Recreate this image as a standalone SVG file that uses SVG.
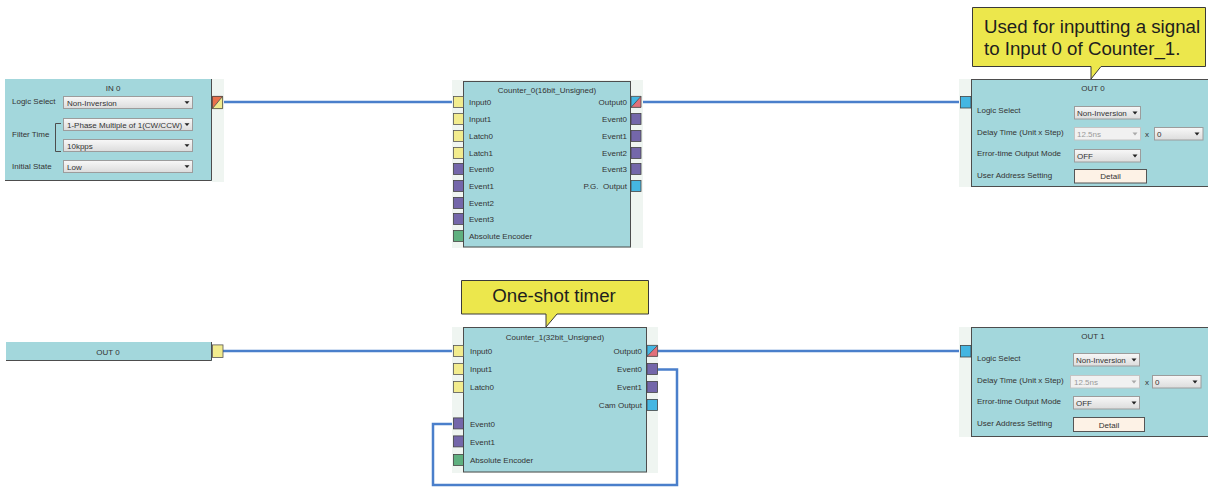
<svg xmlns="http://www.w3.org/2000/svg" width="1208" height="487" viewBox="0 0 1208 487">
<defs>
<linearGradient id="ddg" x1="0" y1="0" x2="0" y2="1"><stop offset="0" stop-color="#f8f8f8"/><stop offset="1" stop-color="#dcdcdc"/></linearGradient>
<path id="arr" d="M-2.5,-1.2 H2.5 L0,1.6 Z"/>
</defs>
<style>
.body{fill:#a3d7dc;stroke:#4d4d4d;stroke-width:1}
.bodyn{fill:#a3d7dc}
.edge{fill:none;stroke:#4d4d4d;stroke-width:1}
.pale{fill:#eff5f1}
.t{font-family:"Liberation Sans",Arial,sans-serif;font-size:8px;fill:#333}
.tg{font-family:"Liberation Sans",Arial,sans-serif;font-size:8px;fill:#999}
.mid{text-anchor:middle}
.end{text-anchor:end}
.dd{fill:url(#ddg);stroke:#9c9c9c;stroke-width:1}
.ddd{fill:#f1f1f1;stroke:#c4c4c4;stroke-width:1}
.btn{fill:#fdf2e6;stroke:#555;stroke-width:1}
.pY{fill:#f2ec8e;stroke:#555;stroke-width:0.8}
.pP{fill:#7467aa;stroke:#444;stroke-width:0.8}
.pG{fill:#5fb07f;stroke:#444;stroke-width:0.8}
.pB{fill:#45b6e2;stroke:#444;stroke-width:0.8}
.pR{fill:#e2707a}
.pO{fill:#e8714c}
.pYf{fill:#f2ec8e}
.pBf{fill:#45b6e2}
.pe{fill:none;stroke:#444;stroke-width:0.8}
.conn{fill:none;stroke:#4a7fcb;stroke-width:2.5}
.call{fill:#ece74c;stroke:#3a3a3a;stroke-width:1}
.ct{font-family:"Liberation Sans",Arial,sans-serif;font-size:18.7px;fill:#1e1e1e}
.ar{fill:#222}
.arg{fill:#aaa}
</style>

<g id="connectors">
<path class="conn" d="M223,102 H453"/>
<path class="conn" d="M641,102 H960"/>
<path class="conn" d="M223,351 H453"/>
<path class="conn" d="M658,351 H960"/>
<path class="conn" d="M658,369.5 H677 V485 H433 V424 H453"/>
</g>

<g id="in0">
<rect class="pale" x="212" y="79" width="12" height="103"/>
<rect class="bodyn" x="5" y="79" width="207" height="102"/>
<path class="edge" d="M211.5,79 V180.5 H5"/>
<text class="t mid" x="113" y="91">IN 0</text>
<text class="t" x="12" y="104">Logic Select</text>
<rect class="dd" x="63.5" y="96.5" width="129" height="12"/>
<text class="t" x="67" y="105.5">Non-Inversion</text>
<use href="#arr" class="ar" x="187" y="102.5"/>
<text class="t" x="12" y="137">Filter Time</text>
<path class="edge" d="M61,123.5 H55.5 V151.5 H61" stroke="#555"/>
<rect class="dd" x="63.5" y="118.5" width="129" height="12"/>
<text class="t" x="67" y="127.5">1-Phase Multiple of 1(CW/CCW)</text>
<use href="#arr" class="ar" x="187" y="124.5"/>
<rect class="dd" x="63.5" y="139.5" width="129" height="12"/>
<text class="t" x="67" y="148.5">10kpps</text>
<use href="#arr" class="ar" x="187" y="145.5"/>
<text class="t" x="12" y="169">Initial State</text>
<rect class="dd" x="63.5" y="160.5" width="129" height="12"/>
<text class="t" x="67" y="169.5">Low</text>
<use href="#arr" class="ar" x="187" y="166.5"/>
<polygon class="pO" points="212,96 223,96 212,109"/>
<polygon class="pYf" points="223,96 223,109 212,109"/>
<path class="pe" d="M212.4,96.4 H222.6 V108.6 H212.4 Z M212.4,108.6 L222.6,96.4"/>
</g>

<g id="counter0">
<rect class="pale" x="452" y="80" width="191" height="168"/>
<rect class="body" x="463.5" y="81.5" width="167" height="165.5"/>
<text class="t mid" x="547" y="93">Counter_0(16bit_Unsigned)</text>
<rect class="pY" x="453.4" y="96.4" width="10" height="11"/>
<text class="t" x="469" y="105">Input0</text>
<rect class="pY" x="453.4" y="113.4" width="10" height="11"/>
<text class="t" x="469" y="122">Input1</text>
<rect class="pY" x="453.4" y="130.4" width="10" height="11"/>
<text class="t" x="469" y="139">Latch0</text>
<rect class="pY" x="453.4" y="147.4" width="10" height="11"/>
<text class="t" x="469" y="156">Latch1</text>
<rect class="pP" x="453.4" y="163.4" width="10" height="11"/>
<text class="t" x="469" y="172">Event0</text>
<rect class="pP" x="453.4" y="180.4" width="10" height="11"/>
<text class="t" x="469" y="189">Event1</text>
<rect class="pP" x="453.4" y="197.4" width="10" height="11"/>
<text class="t" x="469" y="206">Event2</text>
<rect class="pP" x="453.4" y="213.4" width="10" height="11"/>
<text class="t" x="469" y="222">Event3</text>
<rect class="pG" x="453.4" y="230.4" width="10" height="11"/>
<text class="t" x="469" y="239">Absolute Encoder</text>
<polygon class="pBf" points="631,96.4 641,96.4 631,107.4"/>
<polygon class="pR" points="641,96.4 641,107.4 631,107.4"/>
<path class="pe" d="M631,96.4 H641 V107.4 H631 Z M631,107.4 L641,96.4"/>
<text class="t end" x="627" y="105">Output0</text>
<rect class="pP" x="631" y="113.4" width="10" height="11"/>
<text class="t end" x="627" y="122">Event0</text>
<rect class="pP" x="631" y="130.4" width="10" height="11"/>
<text class="t end" x="627" y="139">Event1</text>
<rect class="pP" x="631" y="147.4" width="10" height="11"/>
<text class="t end" x="627" y="156">Event2</text>
<rect class="pP" x="631" y="163.4" width="10" height="11"/>
<text class="t end" x="627" y="172">Event3</text>
<rect class="pB" x="631" y="180.4" width="10" height="11"/>
<text class="t end" x="627" y="189" xml:space="preserve">P.G.  Output</text>
</g>

<g id="out0">
<path class="call" d="M972.5,7.5 H1205.5 V66.5 H1101 L1091,79 V66.5 H972.5 Z"/>
<text class="ct" x="984" y="33">Used for inputting a signal</text>
<text class="ct" x="984" y="55">to Input 0 of Counter_1.</text>
<rect class="pale" x="959" y="79" width="12" height="108"/>
<rect class="body" x="971.5" y="79.5" width="240" height="107"/>
<rect class="pB" x="960.4" y="96.4" width="10.6" height="11.6"/>
<text class="t mid" x="1093" y="91">OUT 0</text>
<text class="t" x="977" y="113">Logic Select</text>
<rect class="dd" x="1074.5" y="106.5" width="66" height="12.5"/>
<text class="t" x="1077" y="115.5">Non-Inversion</text>
<use href="#arr" class="ar" x="1135" y="112.8"/>
<text class="t" x="977" y="135">Delay Time (Unit x Step)</text>
<rect class="ddd" x="1074.5" y="127.5" width="66" height="12.5"/>
<text class="tg" x="1077" y="137">12.5ns</text>
<use href="#arr" class="arg" x="1135" y="133.8"/>
<text class="t" x="1145" y="137">x</text>
<rect class="dd" x="1154.5" y="127.5" width="48.5" height="12.5"/>
<text class="t" x="1157" y="137">0</text>
<use href="#arr" class="ar" x="1197" y="133.8"/>
<text class="t" x="977" y="156">Error-time Output Mode</text>
<rect class="dd" x="1074.5" y="149.5" width="66" height="12.5"/>
<text class="t" x="1077" y="158.5">OFF</text>
<use href="#arr" class="ar" x="1135" y="155.8"/>
<text class="t" x="977" y="178">User Address Setting</text>
<rect class="btn" x="1074.5" y="169.5" width="72" height="13.5"/>
<text class="t mid" x="1110.5" y="179">Detail</text>
</g>

<g id="out0-ref">
<rect class="bodyn" x="6" y="342" width="206" height="19"/>
<path class="edge" d="M211.5,342 V360.5 H6"/>
<text class="t mid" x="108" y="355">OUT 0</text>
<rect class="pY" x="212.4" y="344.9" width="10.6" height="12.6"/>
</g>

<g id="counter1">
<path class="call" d="M461.5,280.5 H648.5 V314 H557 L546,327 V314 H461.5 Z"/>
<text class="ct mid" x="554" y="302">One-shot timer</text>
<rect class="pale" x="452" y="327" width="206" height="146"/>
<rect class="body" x="463.5" y="327.5" width="183" height="144.5"/>
<text class="t mid" x="555" y="340">Counter_1(32bit_Unsigned)</text>
<rect class="pY" x="453.4" y="345.4" width="10" height="11"/>
<text class="t" x="470" y="354">Input0</text>
<rect class="pY" x="453.4" y="363.4" width="10" height="11"/>
<text class="t" x="470" y="372">Input1</text>
<rect class="pY" x="453.4" y="381.4" width="10" height="11"/>
<text class="t" x="470" y="390">Latch0</text>
<rect class="pP" x="453.4" y="417.9" width="10" height="11"/>
<text class="t" x="470" y="426.5">Event0</text>
<rect class="pP" x="453.4" y="435.9" width="10" height="11"/>
<text class="t" x="470" y="444.5">Event1</text>
<rect class="pG" x="453.4" y="454.4" width="10" height="11"/>
<text class="t" x="470" y="463">Absolute Encoder</text>
<polygon class="pBf" points="647,345.4 657.6,345.4 647,356.4"/>
<polygon class="pR" points="657.6,345.4 657.6,356.4 647,356.4"/>
<path class="pe" d="M647,345.4 H657.6 V356.4 H647 Z M647,356.4 L657.6,345.4"/>
<text class="t end" x="642" y="354">Output0</text>
<rect class="pP" x="647" y="363.4" width="10.6" height="11"/>
<text class="t end" x="642" y="372">Event0</text>
<rect class="pP" x="647" y="381.4" width="10.6" height="11"/>
<text class="t end" x="642" y="390">Event1</text>
<rect class="pB" x="647" y="399.4" width="10.6" height="11"/>
<text class="t end" x="642" y="408">Cam Output</text>
</g>

<g id="out1">
<rect class="pale" x="959" y="327" width="12" height="110"/>
<rect class="body" x="971.5" y="327.5" width="240" height="109"/>
<rect class="pB" x="960.4" y="345.4" width="10.6" height="11.6"/>
<text class="t mid" x="1093" y="339">OUT 1</text>
<text class="t" x="977" y="361">Logic Select</text>
<rect class="dd" x="1073.5" y="353.5" width="66" height="12.5"/>
<text class="t" x="1076" y="362.5">Non-Inversion</text>
<use href="#arr" class="ar" x="1134" y="359.8"/>
<text class="t" x="977" y="383">Delay Time (Unit x Step)</text>
<rect class="ddd" x="1070.5" y="375.5" width="69" height="12.5"/>
<text class="tg" x="1074" y="385">12.5ns</text>
<use href="#arr" class="arg" x="1134" y="381.8"/>
<text class="t" x="1145" y="385">x</text>
<rect class="dd" x="1152.5" y="375.5" width="48.5" height="12.5"/>
<text class="t" x="1155" y="385">0</text>
<use href="#arr" class="ar" x="1195" y="381.8"/>
<text class="t" x="977" y="404">Error-time Output Mode</text>
<rect class="dd" x="1073.5" y="396.5" width="66" height="12.5"/>
<text class="t" x="1076" y="405.5">OFF</text>
<use href="#arr" class="ar" x="1134" y="402.8"/>
<text class="t" x="977" y="426">User Address Setting</text>
<rect class="btn" x="1073.5" y="417.5" width="71" height="14"/>
<text class="t mid" x="1109" y="427.5">Detail</text>
</g>
</svg>
